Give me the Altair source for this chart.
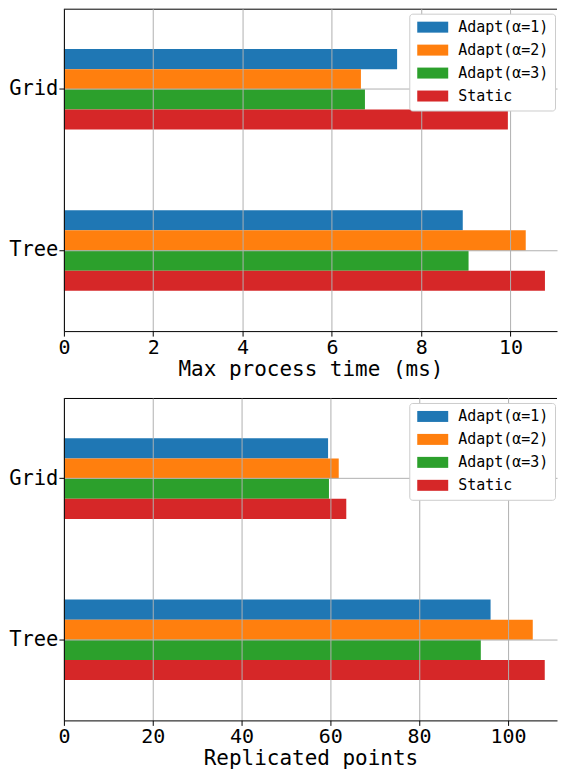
import altair as alt
import pandas as pd

categories = ["Grid", "Tree"]
series = ["Adapt(α=1)", "Adapt(α=2)", "Adapt(α=3)", "Static"]
colors = ["#1f77b4", "#ff7f0e", "#2ca02c", "#d62728"]

time_grid = [7.46, 6.65, 6.74, 9.94]
time_tree = [8.93, 10.34, 9.06, 10.77]
rep_grid = [59.5, 61.9, 59.7, 63.6]
rep_tree = [96.1, 105.6, 93.9, 108.3]

time_ticks = [0, 2, 4, 6, 8, 10]
rep_ticks = [0, 20, 40, 60, 80, 100]
time_max = 11.04
rep_max = 111.06

FONT = "DejaVu Sans Mono"
W, H = 494, 323


def make_df(grid_vals, tree_vals):
    rows = []
    for cat, vals in zip(categories, [grid_vals, tree_vals]):
        for s, v in zip(series, vals):
            rows.append({"cat": cat, "series": s, "value": v})
    return pd.DataFrame(rows)


def panel(df, title, ticks, xmax):
    bars = alt.Chart(df).mark_bar(opacity=1).encode(
        x=alt.X(
            "value:Q",
            scale=alt.Scale(domain=[0, xmax], nice=False, zero=True),
            axis=alt.Axis(values=ticks, title=title, grid=True, zindex=1,
                          tickSize=5, labelPadding=1, titlePadding=1,
                          labelFlush=False, labelOverlap=False,
                          labelFontSize=20, titleFontSize=21),
        ),
        y=alt.Y(
            "cat:N",
            sort=categories,
            scale=alt.Scale(paddingInner=0.5, paddingOuter=0.25),
            axis=alt.Axis(title=None, grid=True, bandPosition=0.5, zindex=1,
                          tickSize=5, labelPadding=1, labelFontSize=20.5),
        ),
        yOffset=alt.YOffset("series:N", sort=series,
                            scale=alt.Scale(paddingInner=0, paddingOuter=0)),
        color=alt.Color(
            "series:N",
            sort=series,
            scale=alt.Scale(domain=series, range=colors),
            legend=alt.Legend(
                title=None, orient="none", legendX=346, legendY=5,
                symbolType="M-2.82,-1L2.82,-1L2.82,1L-2.82,1Z",
                symbolSize=121, symbolStrokeWidth=0, symbolOpacity=1,
                symbolOffset=10,
                labelFont=FONT, labelFontSize=15, labelColor="black",
                labelOffset=18, rowPadding=7, padding=6,
                fillColor="white", strokeColor="#cccccc", cornerRadius=3,
                zindex=2,
            ),
        ),
    )
    frame = alt.Chart(pd.DataFrame({"k": [0]})).mark_rule(
        color="black", strokeWidth=1
    ).encode(x=alt.value(0), x2=alt.value(W), y=alt.value(0.5))
    return alt.layer(bars, frame).properties(width=W, height=H)


top = panel(make_df(time_grid, time_tree), "Max process time (ms)", time_ticks, time_max)
bottom = panel(make_df(rep_grid, rep_tree), "Replicated points", rep_ticks, rep_max)

chart = (
    alt.vconcat(top, bottom, spacing=19)
    .resolve_scale(color="independent")
    .properties(padding={"left": 0, "top": 0, "right": 0, "bottom": 0},
                background="white")
    .configure_axis(
        labelFont=FONT, labelColor="black",
        titleFont=FONT, titleFontWeight="normal", titleColor="black",
        domainColor="black", domainWidth=1, tickColor="black", tickWidth=1,
        gridColor="#b0b0b0", gridWidth=1,
    )
    .configure_view(stroke=None)
)

chart.save("out.html", embed_options={"renderer": "svg", "actions": False})
